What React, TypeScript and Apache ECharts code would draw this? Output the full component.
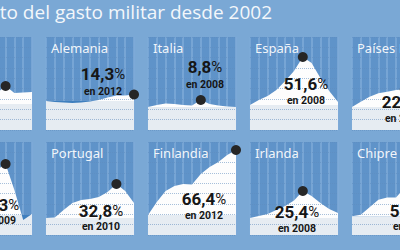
import React, { useEffect, useRef } from "react";
import * as echarts from "echarts";

// ---------- data ----------
const years = ["2002", "2003", "2004", "2005", "2006", "2007", "2008", "2009", "2010", "2011", "2012"];
const titleText = "Aumento del gasto militar desde 2002";
const countryNames = ["", "Alemania", "Italia", "España", "Países Bajos", "", "Portugal", "Finlandia", "Irlanda", "Chipre"];

// % increase since 2002
const leftTopValues = [0, 4, 8, 10, 11, 12, 12.9, 21.2, 12.9, 13.5, 14.1];
const alemaniaValues = [0, -2.2, -3.3, -4.4, -3.3, -1.1, 2.2, 7.7, 12.1, 12.1, 14.3];
const italiaValues = [0, 2.5, 4.4, 3.8, 2.5, 1.9, 8.8, 3.8, 1.9, 0.6, 0];
const espanaValues = [0, 5.4, 9.7, 16.1, 25.8, 36.6, 51.6, 45.2, 29.0, 15.1, 3.2];
const paisesBajosValues = [0, 6.6, 12.9, 17.1, 19.1, 21.3, 22.1, 20.0, 19.0, 20.0, 18.0];
const leftBottomValues = [0, 8, 15, 22, 30, 38, 46.2, 52.3, 25.6, -5.1, 1.0];
const portugalValues = [0, 0.5, 7.7, 14.5, 17.4, 18.3, 20.3, 25.1, 32.8, 26.0, 14.5];
const finlandiaValues = [0, 13.3, 24.5, 29.6, 31.7, 31.2, 42.0, 49.0, 54.1, 61.3, 66.4];
const irlandaValues = [0, 1.9, 3.8, 7.5, 11.3, 16.5, 25.4, 20.7, 14.1, 8.5, 4.7];
const chipreValues = [0, 1.6, 9.5, 17.4, 20, 20, 30, 42, 54.2, 48, 40];

const seriesValues = [
  leftTopValues, alemaniaValues, italiaValues, espanaValues, paisesBajosValues,
  leftBottomValues, portugalValues, finlandiaValues, irlandaValues, chipreValues,
];
// per-panel value scales
const axisMin = [-30.6, -63.7, -28.75, -26.9, -28.75, -20.5, -16.4, -20.4, -16.0, -20];
const axisMax = [78.8, 140.7, 87.5, 73.1, 87.5, 74.9, 73.3, 74.6, 71.5, 78.9];

// ---------- layout / style ----------
const OFF = 70;
const CHART_W = 540;
const COL_LEFT = [-56, 46, 148, 250, 352];
const ROW_TOP = [37, 142];
const PANEL_W = 88;
const PANEL_H = 93;
// [centerX, valueY, yearY] per panel, or null if no label shown
const LABEL_POS: ([number, number, number] | null)[] = [
  null, [103, 73.5, 91], [205, 67, 84], [306, 83.5, 100], [404, 102, 118],
  [-3, 205, 220.5], [101, 211, 226.5], [204, 198.5, 215], [297, 211.5, 228], [412, 210.5, 226],
];

const BG = "#7aa8d5";
const PANEL = "#5f93c9";
const STRIPE = "#7eaad8";
const WHITE = "#fdfdfd";
const BAND = "#e6ecf2";
const NEG = "#3f7fbe";
const DOT = "#262626";
const INK = "#161616";
const GRIDDOT = "rgba(95,140,190,0.55)";

function fmt(v: number) {
  return v.toFixed(1).replace(".", ",");
}

function areaFill(vals: number[]) {
  const hi = Math.max(0, ...vals);
  const lo = Math.min(0, ...vals);
  if (lo >= 0) return WHITE;
  const f = hi / (hi - lo);
  return new echarts.graphic.LinearGradient(0, 0, 0, 1, [
    { offset: 0, color: WHITE },
    { offset: f, color: WHITE },
    { offset: f, color: NEG },
    { offset: 1, color: NEG },
  ]);
}

function buildOption() {
  const grid: any[] = [];
  const xAxis: any[] = [];
  const yAxis: any[] = [];
  const series: any[] = [];
  const graphic: any[] = [];

  seriesValues.forEach((vals, i) => {
    const row = Math.floor(i / 5);
    const col = i % 5;
    const left = COL_LEFT[col] + OFF;
    const top = ROW_TOP[row];
    let maxIdx = 0;
    vals.forEach((v, k) => { if (v > vals[maxIdx]) maxIdx = k; });

    grid.push({
      left, top, width: PANEL_W, height: PANEL_H,
      show: true, backgroundColor: PANEL, borderWidth: 0,
    });
    xAxis.push({
      type: "category", gridIndex: i, data: years, boundaryGap: false,
      axisLine: { show: false }, axisTick: { show: false }, axisLabel: { show: false },
      splitLine: { show: true, interval: 0, lineStyle: { color: STRIPE, width: 1.6 } },
    });
    yAxis.push({
      type: "value", gridIndex: i, min: axisMin[i], max: axisMax[i],
      axisLine: { show: false }, axisTick: { show: false }, axisLabel: { show: false },
      splitLine: { show: false },
    });
    yAxis.push({
      type: "value", gridIndex: i, min: 0, max: 9, interval: 1, z: 3,
      axisLine: { show: false }, axisTick: { show: false }, axisLabel: { show: false },
      splitLine: { show: true, lineStyle: { color: GRIDDOT, type: "dotted", width: 1 } },
    });
    series.push({
      type: "line", xAxisIndex: i, yAxisIndex: 2 * i, data: vals,
      symbol: "none", silent: true, z: 2,
      lineStyle: { width: 0, color: WHITE },
      itemStyle: { color: WHITE },
      areaStyle: { opacity: 1, color: areaFill(vals) },
      markArea: {
        silent: true,
        itemStyle: { color: BAND, opacity: 1 },
        data: [[{ coord: [years[0], axisMin[i]] }, { coord: [years[years.length - 1], 0] }]],
      },
      markPoint: {
        silent: true, symbol: "circle", symbolSize: 10,
        itemStyle: { color: DOT },
        label: { show: false },
        data: [{ coord: [years[maxIdx], vals[maxIdx]] }],
      },
    });

    if (countryNames[i]) {
      graphic.push({
        type: "text", z: 20, silent: true,
        x: left + 5, y: top + 11,
        style: {
          text: countryNames[i], fill: "rgba(255,255,255,0.93)",
          font: '13px "Noto Sans"', align: "left", verticalAlign: "middle",
        },
      });
    }
    const lp = LABEL_POS[i];
    if (lp) {
      graphic.push({
        type: "text", z: 20, silent: true,
        x: lp[0] + OFF, y: lp[1],
        style: {
          text: `{v|${fmt(vals[maxIdx])}}{p|%}`,
          align: "center", verticalAlign: "middle",
          rich: {
            v: { font: "bold 17px Roboto", fill: INK },
            p: { font: "15px Roboto", fill: INK },
          },
        },
      });
      graphic.push({
        type: "text", z: 20, silent: true,
        x: lp[0] + OFF, y: lp[2],
        style: {
          text: `en ${years[maxIdx]}`, fill: INK,
          font: "bold 10.5px Roboto", align: "center", verticalAlign: "middle",
        },
      });
    }
  });

  graphic.push({
    type: "text", z: 20, silent: true,
    x: 272 + OFF, y: 12,
    style: {
      text: titleText, fill: "#f3f7fb",
      font: '19px "Open Sans"', align: "right", verticalAlign: "middle",
    },
  });

  return {
    animation: false,
    backgroundColor: BG,
    grid, xAxis, yAxis, series, graphic,
  };
}

export default function App() {
  const ref = useRef<HTMLDivElement>(null);
  useEffect(() => {
    if (!ref.current) return;
    const chart = echarts.init(ref.current, null, { renderer: "svg" });
    chart.setOption(buildOption() as any);
    return () => chart.dispose();
  }, []);
  return (
    <div style={{ position: "fixed", left: 0, top: 0, width: 400, height: 250, overflow: "hidden", background: BG }}>
      <div ref={ref} style={{ position: "absolute", left: -OFF, top: 0, width: CHART_W, height: 250 }} />
    </div>
  );
}
